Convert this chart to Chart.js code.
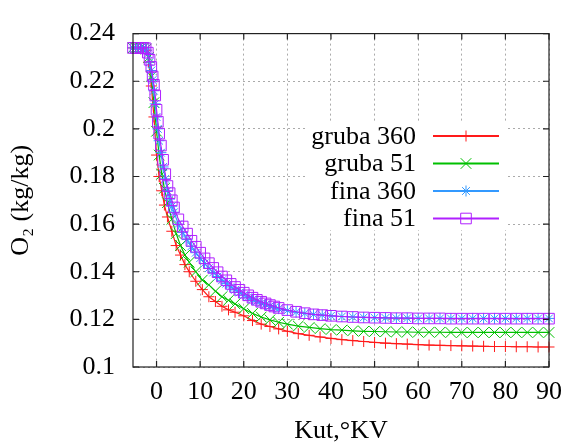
<!DOCTYPE html>
<html>
<head>
<meta charset="utf-8">
<script src="https://cdn.jsdelivr.net/npm/chart.js@4"></script>
<style>
  html, body { margin: 0; padding: 0; background: #fff; }
  canvas { display: block; }
</style>
</head>
<body>
<canvas id="o2Chart" width="572" height="444"></canvas>
<script>
// data
const angles = [-5.4, -4.8, -4.2, -3.6, -3, -2.4, -1.8, -1.2, -0.6, 0, 0.6, 1.2, 1.8, 2.5, 3.5, 4.5, 5.5, 6.5, 7.5, 9,
  10.5, 12, 13.5, 15, 16.5, 18, 20, 22, 24, 26, 28, 30, 32.5, 35, 37.5, 40, 42.5, 45, 47.5, 50,
  52.5, 55, 57.5, 60, 62.5, 65, 67.5, 70, 72.5, 75, 77.5, 80, 82.5, 85, 87.5, 90];

const gruba360 = [0.234, 0.234, 0.234, 0.234, 0.234, 0.233, 0.228, 0.218, 0.205, 0.189, 0.180, 0.174, 0.168, 0.163, 0.157, 0.151, 0.147, 0.143, 0.140, 0.136,
  0.1325, 0.1295, 0.1275, 0.1255, 0.124, 0.123, 0.1215, 0.1195, 0.118, 0.117, 0.116, 0.115, 0.114, 0.1133, 0.1126, 0.112, 0.1115, 0.1111, 0.1107, 0.1103,
  0.1100, 0.1098, 0.1096, 0.1094, 0.1092, 0.1091, 0.109, 0.1089, 0.1088, 0.1087, 0.1086, 0.1086, 0.1085, 0.1085, 0.1084, 0.1084];

const gruba51 = [0.234, 0.234, 0.234, 0.234, 0.234, 0.2335, 0.230, 0.222, 0.211, 0.199, 0.189, 0.181, 0.175, 0.169, 0.162, 0.156, 0.151, 0.147, 0.144, 0.140,
  0.1365, 0.1345, 0.1318, 0.1295, 0.128, 0.1265, 0.1245, 0.1225, 0.121, 0.1198, 0.1188, 0.118, 0.1172, 0.1166, 0.1161, 0.1157, 0.1155, 0.1152, 0.115, 0.1149,
  0.1148, 0.1147, 0.1147, 0.1146, 0.1146, 0.1146, 0.1145, 0.1145, 0.1145, 0.1145, 0.1145, 0.1145, 0.1145, 0.1145, 0.1145, 0.1145];

// the "fina" runs are sampled more densely
const anglesFina = [-5.4, -4.8, -4.2, -3.6, -3, -2.5, -2, -1.6, -1.2, -0.9, -0.6, -0.3,
  0, 0.3, 0.6, 1, 1.5, 2, 2.5, 3, 3.5, 4,
  5, 6, 7, 8, 9, 10, 11, 12, 13, 14, 15, 16, 17, 18, 19, 20, 21, 22, 23, 24, 25, 26, 27, 28,
  30, 32, 34, 36, 38, 40, 42.5, 45, 47.5, 50,
  52.5, 55, 57.5, 60, 62.5, 65, 67.5, 70, 72.5, 75, 77.5, 80, 82.5, 85, 87.5, 90];

const fina360 = [0.234, 0.234, 0.234, 0.234, 0.234, 0.2335, 0.2315, 0.228, 0.2245, 0.2205, 0.216, 0.2105,
  0.205, 0.2, 0.195, 0.19, 0.184, 0.179, 0.174, 0.1705, 0.1675, 0.165,
  0.16, 0.1565, 0.1535, 0.1507, 0.148, 0.1457, 0.1435, 0.1415, 0.1397, 0.138, 0.1364, 0.135, 0.1336, 0.1324, 0.1313, 0.1302, 0.1293, 0.1284, 0.1276, 0.1268, 0.1262, 0.1256, 0.125, 0.1245,
  0.1237, 0.123, 0.1225, 0.1221, 0.1218, 0.1215, 0.1212, 0.121, 0.1208, 0.1207,
  0.1206, 0.1205, 0.1205, 0.1204, 0.1204, 0.1204, 0.1204, 0.1204, 0.1204, 0.1204, 0.1204, 0.1204, 0.1204, 0.1204, 0.1204, 0.1204];

const fina51 = [0.234, 0.234, 0.234, 0.234, 0.234, 0.2338, 0.232, 0.229, 0.226, 0.222, 0.2185, 0.214,
  0.208, 0.203, 0.198, 0.193, 0.187, 0.181, 0.176, 0.173, 0.170, 0.167,
  0.162, 0.159, 0.156, 0.153, 0.1505, 0.148, 0.1456, 0.1436, 0.1416, 0.1398, 0.138, 0.1364, 0.1349, 0.1336, 0.1324, 0.1312, 0.1301, 0.1291, 0.1282, 0.1274, 0.1267, 0.126, 0.1254, 0.1248,
  0.1239, 0.1232, 0.1226, 0.1221, 0.1218, 0.1215, 0.1212, 0.121, 0.1208, 0.1207,
  0.1206, 0.1205, 0.1205, 0.1204, 0.1204, 0.1204, 0.1203, 0.1203, 0.1203, 0.1203, 0.1203, 0.1203, 0.1203, 0.1203, 0.1203, 0.1203];

const seriesNames = ['gruba 360', 'gruba 51', 'fina 360', 'fina 51'];
const xTicks = [0, 10, 20, 30, 40, 50, 60, 70, 80, 90];
const yTicks = [0.1, 0.12, 0.14, 0.16, 0.18, 0.2, 0.22, 0.24];

const FONT = "'Liberation Serif', 'Times New Roman', serif";
const colors = ['#ff1a1a', '#00c000', '#3399ff', '#b020ff'];
const markers = ['cross', 'crossRot', 'star', 'rect'];
const radii = [5.5, 7.5, 5.5, 7.5];

const pts = (xs, vals) => xs.map((a, i) => ({ x: a, y: vals[i] }));

// gnuplot-like frame: mirrored inward ticks + legend box
const framePlugin = {
    id: 'frame',
    afterDraw(chart) {
        const { ctx, chartArea: a, scales: { x, y } } = chart;
        ctx.save();
        ctx.strokeStyle = '#222';
        ctx.lineWidth = 1.2;
        ctx.strokeRect(a.left, a.top, a.right - a.left, a.bottom - a.top);
        ctx.beginPath();
        xTicks.forEach(v => {
            const px = x.getPixelForValue(v);
            ctx.moveTo(px, a.bottom); ctx.lineTo(px, a.bottom - 6);
            ctx.moveTo(px, a.top); ctx.lineTo(px, a.top + 6);
        });
        yTicks.forEach(v => {
            const py = y.getPixelForValue(v);
            ctx.moveTo(a.left, py); ctx.lineTo(a.left + 6, py);
            ctx.moveTo(a.right, py); ctx.lineTo(a.right - 6, py);
        });
        ctx.stroke();

        // legend
        ctx.fillStyle = '#fff';
        ctx.fillRect(306, 122, 200, 108);
        ctx.font = '26px ' + FONT;
        ctx.textAlign = 'right';
        ctx.textBaseline = 'middle';
        seriesNames.forEach((name, i) => {
            const ly = 136 + i * 27.5;
            ctx.fillStyle = '#000';
            ctx.fillText(name, 416, ly + 1);
            ctx.strokeStyle = colors[i];
            ctx.lineWidth = 2;
            ctx.beginPath();
            ctx.moveTo(433, ly); ctx.lineTo(499, ly);
            ctx.stroke();
            ctx.lineWidth = 1;
            ctx.fillStyle = 'rgba(0,0,0,0)';
            Chart.helpers.drawPoint(ctx, { pointStyle: markers[i], radius: radii[i], borderWidth: 1 }, 466, ly);
        });
        ctx.restore();
    }
};

const seriesX = [angles, angles, anglesFina, anglesFina];

new Chart(document.getElementById('o2Chart'), {
    type: 'line',
    data: {
        datasets: [gruba360, gruba51, fina360, fina51].map((vals, i) => ({
            label: seriesNames[i],
            data: pts(seriesX[i], vals),
            borderColor: colors[i],
            backgroundColor: 'rgba(0,0,0,0)',
            borderWidth: 1.2,
            pointStyle: markers[i],
            pointRadius: radii[i],
            pointBorderWidth: 1,
            pointBorderColor: colors[i],
            pointBackgroundColor: 'rgba(0,0,0,0)',
            tension: 0,
            order: 4 - i,
            clip: 8
        }))
    },
    plugins: [framePlugin],
    options: {
        responsive: false,
        animation: false,
        devicePixelRatio: 1,
        layout: { padding: { left: 0, right: 15, top: 23, bottom: 0 } },
        plugins: { legend: { display: false }, tooltip: { enabled: false } },
        scales: {
            x: {
                type: 'linear',
                min: -5.4,
                max: 90,
                afterBuildTicks: s => { s.ticks = xTicks.map(v => ({ value: v })); },
                afterFit: s => { s.height = 77; },
                grid: { color: '#aaa', lineWidth: 1, drawTicks: false },
                border: { display: false, dash: [2, 3] },
                ticks: { color: '#000', padding: 10, maxRotation: 0, font: { family: FONT, size: 26 } },
                title: {
                    display: true, text: 'Kut,°KV', color: '#000',
                    font: { family: FONT, size: 26, lineHeight: 1 },
                    padding: { top: 0, bottom: 0 }
                }
            },
            y: {
                min: 0.1,
                max: 0.24,
                afterBuildTicks: s => { s.ticks = yTicks.map(v => ({ value: v })); },
                afterFit: s => { s.width = 133; },
                grid: { color: '#aaa', lineWidth: 1, drawTicks: false },
                border: { display: false, dash: [2, 3] },
                ticks: {
                    color: '#000', padding: 18, font: { family: FONT, size: 26 },
                    callback: v => String(Number(v.toFixed(2)))
                },
                title: {
                    display: true, text: 'O₂ (kg/kg)', color: '#000',
                    font: { family: FONT, size: 26, lineHeight: 1 },
                    padding: { top: 8, bottom: 0 }
                }
            }
        }
    }
});
</script>
</body>
</html>
